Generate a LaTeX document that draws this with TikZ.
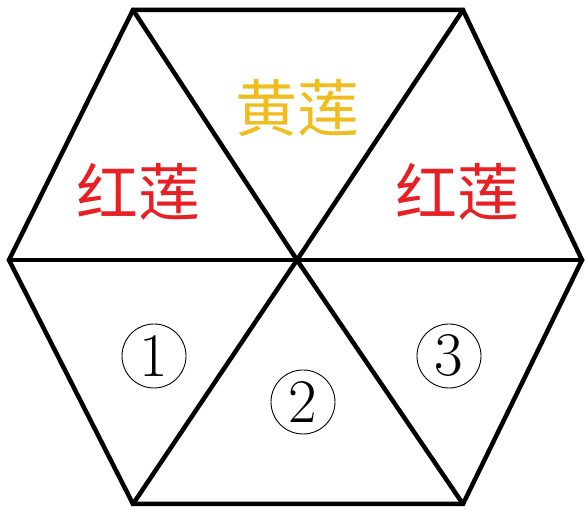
\documentclass[tikz,border=0pt]{standalone}
\usepackage{fontspec}
\newfontfamily\cjk{Noto Sans CJK SC}
\definecolor{lotusred}{RGB}{232,32,36}
\definecolor{lotusyellow}{RGB}{240,188,30}
\begin{document}
\begin{tikzpicture}[x=1pt,y=1pt,
  edge/.style={line width=4.5pt,line join=miter,line cap=round},
  label/.style={font=\cjk\fontsize{62}{62}\selectfont,inner sep=0pt},
  num/.style={draw,circle,line width=0.9pt,minimum size=64pt,inner sep=0pt,font=\fontsize{62}{62}\selectfont}]
\useasboundingbox (0,0) rectangle (586,510);
\coordinate (TL) at (133,500);
\coordinate (TR) at (463,500);
\coordinate (R) at (582,250);
\coordinate (BR) at (463,6);
\coordinate (BL) at (133,6);
\coordinate (L) at (9,250);
\coordinate (C) at (297,250);
\draw[edge] (TL) -- (TR) -- (R) -- (BR) -- (BL) -- (L) -- cycle;
\draw[edge] (L) -- (R);
\draw[edge] (TL) -- (C) -- (BR);
\draw[edge] (TR) -- (C) -- (BL);
\node[label,text=lotusred] (a) at (138,318) {红莲};
\node[label,text=lotusyellow] (b) at (297,402) {黄莲};
\node[label,text=lotusred] (c) at (457,318) {红莲};
\node[num] (n1) at (154,154) {1};
\node[num] (n2) at (303,108) {2};
\node[num] (n3) at (449,154) {3};
\end{tikzpicture}
\end{document}
